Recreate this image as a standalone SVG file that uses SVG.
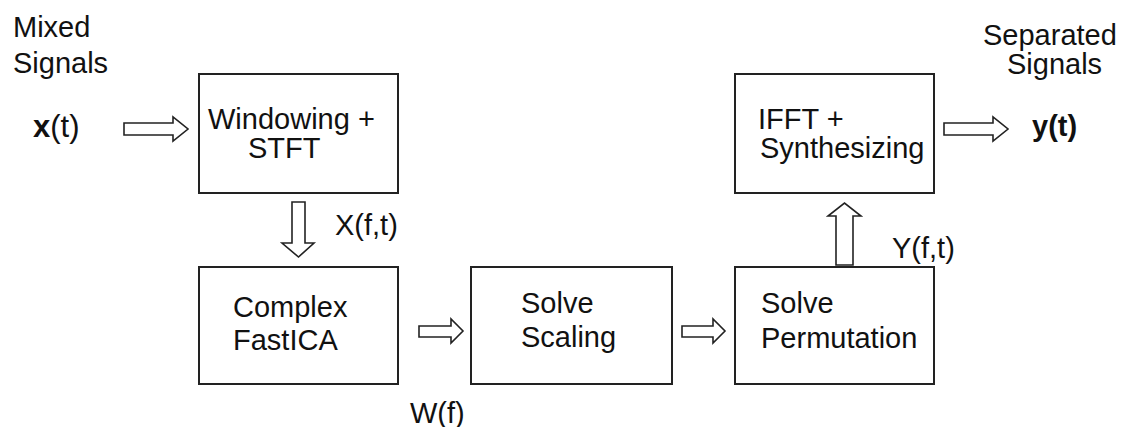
<svg xmlns="http://www.w3.org/2000/svg" width="1127" height="427" viewBox="0 0 1127 427">
<style>
.box{fill:#fff;stroke:#222;stroke-width:2}
.arr{fill:#fff;stroke:#222;stroke-width:1.6;stroke-linejoin:miter}
text{font-family:"Liberation Sans",Arial,sans-serif;font-size:29px;fill:#111}
.b{font-weight:bold}
</style>
<rect width="1127" height="427" fill="#fff"/>
<g id="labels">
<text x="13" y="37">Mixed</text>
<text x="13" y="73">Signals</text>
<text x="33" y="137"><tspan class="b" font-size="31">x</tspan><tspan font-size="31">(t)</tspan></text>
<text x="983" y="45">Separated</text>
<text x="1007" y="74">Signals</text>
<text x="1032" y="136" class="b" font-size="31">y(t)</text>
<text x="335" y="235">X(f,t)</text>
<text x="892" y="258">Y(f,t)</text>
<text x="410" y="423">W(f)</text>
</g>
<g id="node-stft">
<rect class="box" x="199" y="74" width="199" height="119"/>
<text x="208" y="129">Windowing +</text>
<text x="248" y="158">STFT</text>
</g>
<g id="node-ifft">
<rect class="box" x="735" y="74" width="199" height="119"/>
<text x="758" y="129">IFFT +</text>
<text x="760" y="158">Synthesizing</text>
</g>
<g id="node-fastica">
<rect class="box" x="199" y="267" width="199" height="117"/>
<text x="233" y="317">Complex</text>
<text x="233" y="350">FastICA</text>
</g>
<g id="node-scaling">
<rect class="box" x="471" y="267" width="201" height="117"/>
<text x="521" y="313">Solve</text>
<text x="521" y="347">Scaling</text>
</g>
<g id="node-permutation">
<rect class="box" x="735" y="267" width="199" height="117"/>
<text x="761" y="313">Solve</text>
<text x="761" y="348">Permutation</text>
</g>
<g id="connectors">
<polygon class="arr" points="124,123 173,123 173,117 188,129 173,141 173,135 124,135"/>
<polygon class="arr" points="292,202 305,202 305,243 314,243 298.5,257 282,243 292,243"/>
<polygon class="arr" points="419,326 451,326 451,319 463,331 451,343 451,337 419,337"/>
<polygon class="arr" points="682,326 713,326 713,319 725,331 713,343 713,337 682,337"/>
<polygon class="arr" points="836,265 853,265 853,216 861,216 844.5,203 828,216 836,216"/>
<polygon class="arr" points="944,123 993,123 993,117 1008,129 993,141 993,135 944,135"/>
</g>
</svg>
